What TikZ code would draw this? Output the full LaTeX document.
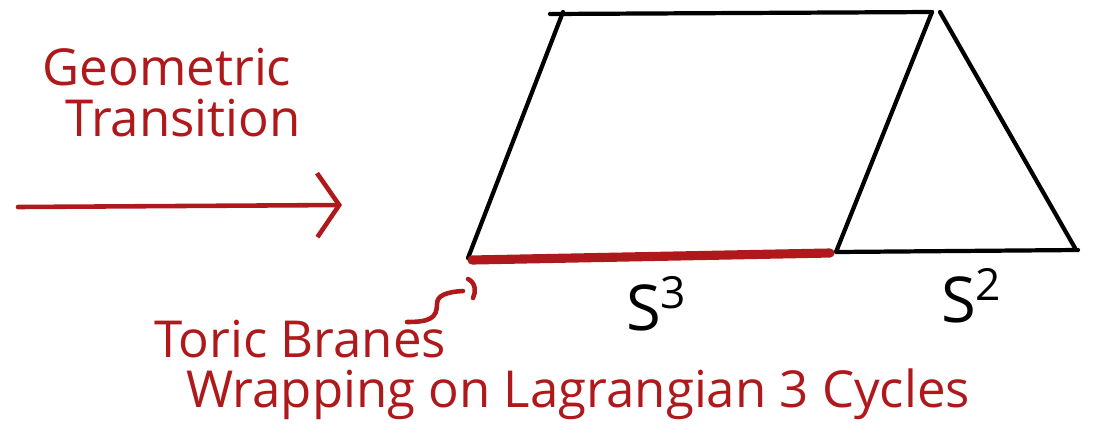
\documentclass[tikz,border=0pt]{standalone}
\usepackage{fontspec}
\setmainfont{Open Sans}
\usepackage{tikz}
\usetikzlibrary{arrows.meta}
\definecolor{inkred}{RGB}{175,25,28}

\begin{document}
\begin{tikzpicture}[line cap=round, line join=round,
  pen/.style={line width=1.2pt, black},
  redpen/.style={line width=1.3pt, inkred},
  redlabel/.style={text=inkred, inner sep=0pt, font=\fontsize{14.5}{16}\selectfont},
  blacklabel/.style={inner sep=0pt, font=\fontsize{18}{20}\selectfont}]
  \useasboundingbox (0,0) rectangle (10.99,4.32);
  % corners of the parallelogram and triangle
  \coordinate (bl) at (4.68,1.74);
  \coordinate (tl) at (5.63,4.20);
  \coordinate (tlx) at (5.50,4.18);
  \coordinate (tr) at (9.32,4.20);
  \coordinate (br) at (8.36,1.80);
  \coordinate (tt) at (9.40,4.20);
  \coordinate (tb) at (10.75,1.84);
  \coordinate (tbx) at (10.78,1.82);
  \draw[pen] (tlx) -- (tr);
  \draw[pen] (tl) -- (bl);
  \draw[pen] (tr) -- (br) -- (tbx);
  \draw[pen] (tt) -- (tb);
  % the branes
  \draw[inkred, line width=2.6pt] (4.72,1.72) -- (8.30,1.79);
  \node[blacklabel] (sthree) at (6.57,1.28) {S\textsuperscript{3}};
  \node[blacklabel] (stwo) at (9.72,1.36) {S\textsuperscript{2}};
  % transition arrow
  \coordinate (arrstart) at (0.18,2.25);
  \coordinate (arrend) at (3.42,2.27);
  \draw[redpen, -{Straight Barb[length=2.2mm, width=6.4mm]}] (arrstart) -- (arrend);
  \node[redlabel] (geo) at (1.67,3.65) {Geometric};
  \node[redlabel] (trans) at (1.83,3.14) {Transition};
  % labels below
  \draw[redpen] (4.68,1.53) .. controls (4.76,1.49) and (4.76,1.40) .. (4.73,1.34);
  \draw[redpen] (4.63,1.41) .. controls (4.45,1.40) and (4.37,1.36) .. (4.37,1.28)
    .. controls (4.37,1.14) and (4.30,1.10) .. (4.07,1.10);
  \node[redlabel] (toric) at (3.00,0.93) {Toric Branes};
  \node[redlabel] (wrap) at (5.78,0.38) {Wrapping on Lagrangian 3 Cycles};
\end{tikzpicture}
\end{document}
